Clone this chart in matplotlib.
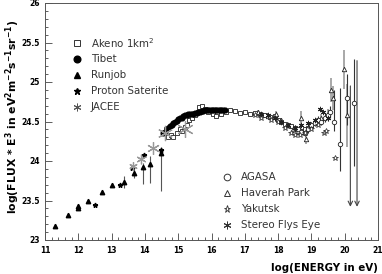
import matplotlib
matplotlib.use("Agg")
import matplotlib.pyplot as plt
import numpy as np
from matplotlib.ticker import MultipleLocator

# ---------------- data ----------------
runjob_x = [11.3, 11.7, 12.0, 12.0, 12.3, 12.7, 13.0, 13.38, 13.68, 13.93, 14.15, 14.48]
runjob_y = [23.18, 23.32, 23.40, 23.43, 23.49, 23.61, 23.69, 23.73, 23.85, 23.93, 23.96, 24.10]
runjob_elo = [0, 0, 0, 0, 0, 0, 0, 0.07, 0.07, 0.22, 0.24, 0.48]
runjob_ehi = [0, 0, 0, 0, 0, 0, 0, 0.08, 0.07, 0.05, 0.10, 0.08]

proton_x = [12.5, 13.25, 13.6, 13.97, 14.47]
proton_y = [23.44, 23.69, 23.91, 24.07, 24.14]

jacee_x = [13.63, 13.88, 14.23, 14.6, 15.2]
jacee_y = [23.94, 24.03, 24.16, 24.36, 24.40]
jacee_ms = [6, 7, 9, 11, 12]

tibet_x = [14.55, 14.6, 14.65, 14.7, 14.75, 14.8, 14.85, 14.9, 14.95, 15.0, 15.05, 15.1,
           15.15, 15.2, 15.25, 15.3, 15.35, 15.4, 15.45, 15.5, 15.55, 15.6, 15.65, 15.7,
           15.75, 15.8, 15.85, 15.9, 15.95, 16.0, 16.05, 16.1, 16.15, 16.2, 16.25, 16.3, 16.35, 16.4]
tibet_y = [24.35, 24.37, 24.40, 24.42, 24.44, 24.46, 24.48, 24.50, 24.51, 24.53, 24.54, 24.55,
           24.57, 24.58, 24.58, 24.59, 24.59, 24.60, 24.60, 24.61, 24.61, 24.62, 24.62, 24.63,
           24.63, 24.64, 24.64, 24.64, 24.64, 24.65, 24.65, 24.65, 24.65, 24.65, 24.65, 24.65, 24.64, 24.64]

akeno_x = [14.62, 14.7, 14.78, 14.85, 14.95, 15.05, 15.12, 15.2, 15.27, 15.33, 15.4, 15.5,
           15.62, 15.7, 15.8, 15.9, 16.05, 16.15, 16.3, 16.45, 16.55, 16.7, 16.85, 17.0,
           17.15, 17.3, 17.45, 17.6, 17.75, 17.9, 18.0, 18.1, 18.2, 18.3, 18.4, 18.5,
           18.6, 18.7, 18.8, 18.9]
akeno_y = [24.40, 24.31, 24.33, 24.31, 24.36, 24.40, 24.38, 24.43, 24.46, 24.52, 24.55, 24.58,
           24.68, 24.69, 24.66, 24.62, 24.60, 24.57, 24.59, 24.62, 24.64, 24.63, 24.61, 24.62,
           24.60, 24.61, 24.60, 24.58, 24.56, 24.57, 24.52, 24.50, 24.47, 24.46, 24.44, 24.42,
           24.40, 24.38, 24.40, 24.42]

haverah_x = [17.4, 17.7, 17.95, 18.1, 18.3, 18.45, 18.6, 18.7, 18.85, 19.0, 19.15, 19.3,
             19.5, 19.6, 19.65, 19.98, 20.07]
haverah_y = [24.62, 24.57, 24.60, 24.52, 24.45, 24.40, 24.38, 24.55, 24.28, 24.45, 24.50, 24.55,
             24.60, 24.90, 24.80, 25.16, 24.58]
haverah_err = [0.03, 0.03, 0.03, 0.03, 0.03, 0.04, 0.04, 0.08, 0.07, 0.04, 0.05, 0.05,
               0.06, 0.15, 0.15, 0.25, 0.40]

agasa_x = [18.5, 18.6, 18.7, 18.8, 18.9, 19.0, 19.1, 19.2, 19.3, 19.4, 19.5, 19.57,
           19.68, 19.87, 20.07, 20.27]
agasa_y = [24.42, 24.40, 24.37, 24.35, 24.40, 24.45, 24.48, 24.52, 24.50, 24.55, 24.58, 24.62,
           24.50, 24.22, 24.80, 24.74]
agasa_elo = [0.03, 0.03, 0.03, 0.03, 0.04, 0.04, 0.04, 0.05, 0.05, 0.06, 0.07, 0.08,
             0.12, 0.35, 0.35, 0.80]
agasa_ehi = [0.03, 0.03, 0.03, 0.03, 0.04, 0.04, 0.04, 0.05, 0.05, 0.06, 0.07, 0.08,
             0.40, 0.70, 0.30, 0.55]

ul_x = [20.17, 20.37]
ul_top = [24.95, 25.27]
ul_bottom = [23.42, 23.42]

yakutsk_x = [17.3, 17.5, 17.8, 18.0, 18.2, 18.4, 18.5, 18.65, 18.8, 19.0, 19.2, 19.38, 19.45, 19.7]
yakutsk_y = [24.58, 24.55, 24.52, 24.50, 24.42, 24.35, 24.33, 24.33, 24.35, 24.40, 24.45, 24.35,
             24.38, 24.04]

flyseye_x = [17.5, 17.7, 17.9, 18.1, 18.3, 18.5, 18.7, 18.9, 19.1, 19.25, 19.35, 19.5]
flyseye_y = [24.60, 24.58, 24.55, 24.50, 24.45, 24.42, 24.45, 24.48, 24.52, 24.66, 24.62, 24.55]

legend1_labels = ["Akeno 1km$^2$", "Tibet", "Runjob", "Proton Saterite", "JACEE"]
legend2_labels = ["AGASA", "Haverah Park", "Yakutsk", "Stereo Flys Eye"]

# ---------------- figure ----------------
plt.rcParams["mathtext.fontset"] = "dejavusans"
fig = plt.figure(figsize=(3.82, 2.74), dpi=100)
ax = fig.add_axes([45/382, 1-240/274, 333/382, 237/274])
ax.set_xlim(11, 21)
ax.set_ylim(23, 26)

grey = "#999999"
asterisk = (6, 2, 0)

# error bars
ax.errorbar(runjob_x, runjob_y, yerr=[runjob_elo, runjob_ehi], fmt="none", ecolor="#555555", elinewidth=0.8)
ax.errorbar(haverah_x, haverah_y, yerr=haverah_err, fmt="none", ecolor=grey, elinewidth=1.2)
ax.errorbar(agasa_x, agasa_y, yerr=[agasa_elo, agasa_ehi], fmt="none", ecolor="#333333", elinewidth=0.8)
for x, t, b in zip(ul_x, ul_top, ul_bottom):
    ax.annotate("", xy=(x, b), xytext=(x, t),
                arrowprops=dict(arrowstyle="->", color="#444444", lw=0.8, shrinkA=0, shrinkB=0,
                                mutation_scale=8))

# markers
ax.plot(akeno_x, akeno_y, ls="none", marker="s", ms=3.0, mfc="white", mec="#222222", mew=0.6)
ax.plot(tibet_x, tibet_y, ls="none", marker="o", ms=3.4, mfc="black", mec="black")
ax.plot(runjob_x, runjob_y, ls="none", marker="^", ms=3.2, mfc="black", mec="black")
ax.plot(proton_x, proton_y, ls="none", marker="*", ms=3.5, mfc="black", mec="black")
for x, y, s in zip(jacee_x, jacee_y, jacee_ms):
    ax.plot([x], [y], ls="none", marker=asterisk, ms=s, mec=grey, mew=0.9)
ax.plot(haverah_x, haverah_y, ls="none", marker="^", ms=3.2, mfc="white", mec="#222222", mew=0.6)
ax.plot(agasa_x, agasa_y, ls="none", marker="o", ms=3.2, mfc="white", mec="#222222", mew=0.6)
ax.plot(yakutsk_x, yakutsk_y, ls="none", marker="*", ms=3.8, mfc="white", mec="#222222", mew=0.5)
ax.plot(flyseye_x, flyseye_y, ls="none", marker=asterisk, ms=3.8, mec="#222222", mew=0.7)

# legends (manual)
leg1_styles = [dict(marker="s", mfc="white", mec="#333333", ms=4.2, mew=0.7),
               dict(marker="o", mfc="black", mec="black", ms=4.8),
               dict(marker="^", mfc="black", mec="black", ms=4.8),
               dict(marker="*", mfc="black", mec="black", ms=5),
               dict(marker=asterisk, mec="#555555", ms=5.5, mew=0.7)]
for i, (lab, st) in enumerate(zip(legend1_labels, leg1_styles)):
    yy = 0.8325 - i*0.0675
    ax.plot([0.096], [yy], transform=ax.transAxes, ls="none", **st)
    ax.text(0.138, yy, lab, transform=ax.transAxes, fontsize=7.4, color="#333333", va="center", ha="left")

leg2_styles = [dict(marker="o", mfc="white", mec="#333333", ms=4.8, mew=0.7),
               dict(marker="^", mfc="white", mec="#333333", ms=4.8, mew=0.7),
               dict(marker="*", mfc="white", mec="#333333", ms=5.2, mew=0.6),
               dict(marker=asterisk, mec="#333333", ms=5.5, mew=0.7)]
for i, (lab, st) in enumerate(zip(legend2_labels, leg2_styles)):
    yy = 0.267 - i*0.068
    ax.plot([0.546], [yy], transform=ax.transAxes, ls="none", **st)
    ax.text(0.588, yy, lab, transform=ax.transAxes, fontsize=7.4, color="#333333", va="center", ha="left")

# axes styling
ax.xaxis.set_major_locator(MultipleLocator(1))
ax.xaxis.set_minor_locator(MultipleLocator(0.2))
ax.yaxis.set_major_locator(MultipleLocator(0.5))
ax.yaxis.set_minor_locator(MultipleLocator(0.1))
ax.tick_params(which="both", direction="in", top=False, right=False, width=0.6, color="#444444")
ax.tick_params(which="major", length=5, labelsize=5.5, pad=4)
ax.tick_params(which="minor", length=2.5)
ax.set_yticks([23, 23.5, 24, 24.5, 25, 25.5, 26])
ax.set_yticklabels(["23", "23.5", "24", "24.5", "25", "25.5", "26"])
for lab in ax.get_xticklabels() + ax.get_yticklabels():
    lab.set_fontweight("bold")
for sp in ax.spines.values():
    sp.set_linewidth(0.7)
    sp.set_color("#555555")

ax.set_xlabel("log(ENERGY in eV)", fontsize=7.4, fontweight="bold", loc="right", labelpad=6)
ax.set_ylabel(r"log(FLUX * E$^{\mathbf{3}}$ in eV$^{\mathbf{2}}$m$^{\mathbf{-2}}$s$^{\mathbf{-1}}$sr$^{\mathbf{-1}}$)",
              fontsize=7.8, fontweight="bold", labelpad=2)
ax.yaxis.set_label_coords(-0.07, 0.52)

fig.savefig("out.png", dpi=100)
